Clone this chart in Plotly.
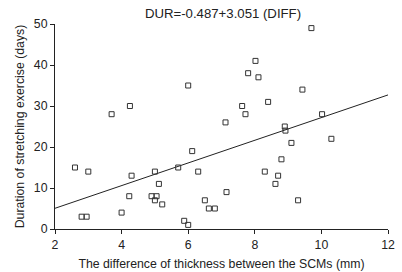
import plotly.graph_objects as go

diff_mm = [2.6, 2.8, 2.95, 3.0, 3.7, 4.0, 4.23, 4.25, 4.3, 4.9, 5.0, 5.0, 5.05, 5.12, 5.22,
           5.7, 5.88, 6.0, 6.0, 6.12, 6.3, 6.5, 6.62, 6.8, 7.12, 7.15, 7.62, 7.72, 7.8,
           8.02, 8.11, 8.3, 8.4, 8.62, 8.7, 8.8, 8.9, 8.92, 9.1, 9.3, 9.43, 9.7, 10.02, 10.3]
dur_days = [15, 3, 3, 14, 28, 4, 8, 30, 13, 8, 14, 7, 8, 11, 6,
            15, 2, 1, 35, 19, 14, 7, 5, 5, 26, 9, 30, 28, 38,
            41, 37, 14, 31, 11, 13, 17, 25, 24, 21, 7, 34, 49, 28, 22]

fit_x = [2, 12]
fit_y = [5.05, 32.7]

x_ticks = [2, 4, 6, 8, 10, 12]
y_ticks = [0, 10, 20, 30, 40, 50]

font = "Liberation Sans, Arial, sans-serif"

fig = go.Figure()
fig.add_trace(go.Scatter(x=fit_x, y=fit_y, mode="lines",
                         line=dict(color="#222222", width=1), hoverinfo="skip"))
fig.add_trace(go.Scatter(x=diff_mm, y=dur_days, mode="markers",
                         marker=dict(symbol="square-open", size=5, color="#333333",
                                     line=dict(width=1, color="#333333"))))

fig.update_layout(
    width=402, height=272,
    margin=dict(l=55, r=14, t=24, b=43, autoexpand=False),
    paper_bgcolor="white", plot_bgcolor="white",
    showlegend=False,
    font=dict(family=font, size=12.3, color="#222222"),
    title=dict(text="DUR=-0.487+3.051 (DIFF)", x=223/402, xanchor="center",
               y=1 - 13/272, yanchor="middle", font=dict(size=13.2, family=font, color="#222222")),
)
fig.update_xaxes(range=[2, 12], tickvals=x_ticks, showgrid=False, zeroline=False,
                 showline=True, linecolor="#222222", linewidth=1, automargin=False,
                 ticks="outside", ticklen=4, tickcolor="#222222",
                 title=dict(text="The difference of thickness between the SCMs (mm)",
                            font=dict(size=12.3), standoff=8))
fig.update_yaxes(range=[0, 50], tickvals=y_ticks, showgrid=False, zeroline=False,
                 showline=True, linecolor="#222222", linewidth=1, automargin=False,
                 ticks="outside", ticklen=4, tickcolor="#222222",
                 title=dict(text="Duration of stretching exercise (days)",
                            font=dict(size=12.3), standoff=6))

fig.write_html("out.html", config={"displayModeBar": False},
               post_script="document.body.style.margin='0px';")
